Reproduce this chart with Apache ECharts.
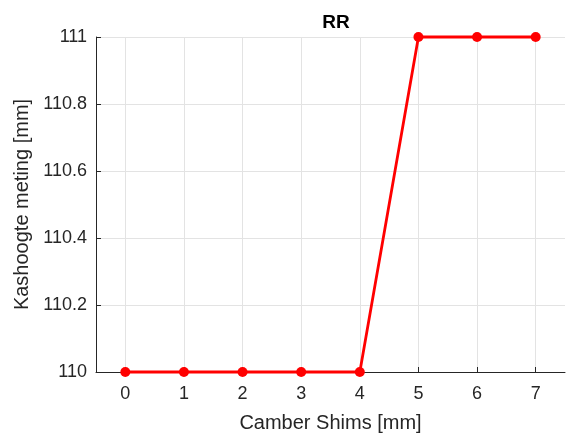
<!DOCTYPE html>
<html>
<head>
<meta charset="utf-8">
<script src="https://cdn.jsdelivr.net/npm/echarts@6/dist/echarts.min.js"></script>
<style>
  html, body { margin: 0; padding: 0; background: #fff; }
  #chart { width: 569px; height: 434px; }
</style>
</head>
<body>
<div id="chart"></div>
<script>
// Camber shim thickness vs. measured ride height, rear right corner
const shims = [0, 1, 2, 3, 4, 5, 6, 7];
const rideHeight = [110, 110, 110, 110, 110, 111, 111, 111];
const yTicks = [110, 110.2, 110.4, 110.6, 110.8, 111];

const textColor = '#262626';
const gridColor = '#e3e3e3';
const font = 'Liberation Sans, Arial, Helvetica, sans-serif';

const chart = echarts.init(document.getElementById('chart'), null, { renderer: 'canvas' });

chart.setOption({
  animation: false,
  backgroundColor: '#ffffff',
  title: {
    text: 'RR',
    left: 331,
    textAlign: 'center',
    top: 8,
    textStyle: { fontFamily: font, fontSize: 19, fontWeight: 'bold', color: '#000' }
  },
  grid: { left: 96, right: 4, top: 37, bottom: 62, containLabel: false, outerBoundsMode: 'none' },
  xAxis: {
    type: 'value',
    min: -0.5,
    max: 7.5,
    name: 'Camber Shims [mm]',
    nameLocation: 'middle',
    nameGap: 41,
    nameTextStyle: { fontFamily: font, fontSize: 20, color: textColor },
    axisLine: { show: true, onZero: false, lineStyle: { color: textColor, width: 1 } },
    axisTick: { show: true, inside: true, length: 5, customValues: shims, lineStyle: { color: textColor } },
    axisLabel: { customValues: shims, margin: 13, fontFamily: font, fontSize: 18, color: textColor },
    splitLine: { show: true, lineStyle: { color: gridColor, width: 1 } }
  },
  yAxis: {
    type: 'value',
    min: yTicks[0],
    max: yTicks[yTicks.length - 1],
    interval: 0.2,
    name: 'Kashoogte meting [mm]',
    nameLocation: 'middle',
    nameGap: 60,
    nameTextStyle: { fontFamily: font, fontSize: 20, color: textColor },
    axisLine: { show: true, onZero: false, lineStyle: { color: textColor, width: 1 } },
    axisTick: { show: true, inside: true, length: 5, lineStyle: { color: textColor } },
    axisLabel: {
      margin: 9, fontFamily: font, fontSize: 18, color: textColor,
      formatter: v => String(Math.round(v * 10) / 10)
    },
    splitLine: { show: true, lineStyle: { color: gridColor, width: 1 } }
  },
  series: [{
    type: 'line',
    data: shims.map((s, i) => [s, rideHeight[i]]),
    symbol: 'circle',
    symbolSize: 10,
    clip: false,
    lineStyle: { color: '#ff0000', width: 2.8 },
    itemStyle: { color: '#ff0000' }
  }]
});
</script>
</body>
</html>
